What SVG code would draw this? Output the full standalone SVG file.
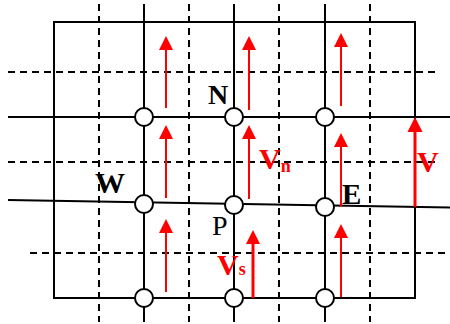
<svg xmlns="http://www.w3.org/2000/svg" width="450" height="324" viewBox="0 0 450 324">
<style>
.solid{stroke:#000;stroke-width:2;fill:none}
.dash{stroke:#000;stroke-width:2;stroke-dasharray:7,5;fill:none}
.node{fill:#fff;stroke:#000;stroke-width:2}
.arr{stroke:#f00;stroke-width:2;fill:none}
.arrk{stroke:#f00;stroke-width:3;fill:none}
.head{fill:#f00}
.lbl{font-family:"Liberation Serif",serif;font-weight:bold;fill:#000}
.red{font-family:"Liberation Serif",serif;font-weight:bold;fill:#f00}
</style>
<rect width="450" height="324" fill="#fff"/>
<g id="grid">
<rect class="solid" x="54" y="22" width="361" height="276"/>
<line class="solid" x1="144" y1="4" x2="144" y2="322"/>
<line class="solid" x1="234" y1="4" x2="234" y2="322"/>
<line class="solid" x1="325" y1="4" x2="325" y2="322"/>
<line class="solid" x1="8" y1="117" x2="450" y2="117"/>
<line class="solid" x1="8" y1="200" x2="450" y2="207.5"/>
<line class="dash" x1="99" y1="4" x2="99" y2="322"/>
<line class="dash" x1="189" y1="4" x2="189" y2="322"/>
<line class="dash" x1="279" y1="4" x2="279" y2="322"/>
<line class="dash" x1="370" y1="4" x2="370" y2="322"/>
<line class="dash" x1="8" y1="72" x2="437" y2="72"/>
<line class="dash" x1="8" y1="162" x2="437" y2="162"/>
<line class="dash" x1="30" y1="253" x2="450" y2="253"/>
</g>
<g id="connectors">
<line class="arr" x1="166" y1="108" x2="166" y2="48"/><polygon class="head" points="166,36 159,50 173,50"/>
<line class="arr" x1="166" y1="198" x2="166" y2="137"/><polygon class="head" points="166,125 159,139 173,139"/>
<line class="arr" x1="166" y1="292" x2="166" y2="231"/><polygon class="head" points="166,219 159,233 173,233"/>
<line class="arr" x1="249" y1="110" x2="249" y2="48"/><polygon class="head" points="249,36 242,50 256,50"/>
<line class="arr" x1="249" y1="199" x2="249" y2="137"/><polygon class="head" points="249,125 242,139 256,139"/>
<line class="arrk" x1="253" y1="298" x2="253" y2="242"/><polygon class="head" points="253,230 246,244 260,244"/>
<line class="arr" x1="341" y1="106" x2="341" y2="45"/><polygon class="head" points="341,33 334,47 348,47"/>
<line class="arr" x1="341" y1="207" x2="341" y2="145"/><polygon class="head" points="341,133 334,147 348,147"/>
<line class="arr" x1="341" y1="297" x2="341" y2="236"/><polygon class="head" points="341,224 334,238 348,238"/>
<line class="arrk" x1="415" y1="207" x2="415" y2="130"/><polygon class="head" points="415,117 407.5,132 422.5,132"/>
</g>
<g id="N"><circle class="node" cx="234" cy="117" r="9"/><text class="lbl" x="208" y="104" font-size="28">N</text></g>
<g id="n2"><circle class="node" cx="144" cy="117" r="9"/></g>
<g id="n3"><circle class="node" cx="325" cy="117" r="9"/></g>
<g id="W"><circle class="node" cx="144" cy="204" r="9"/><text class="lbl" x="95" y="193" font-size="30">W</text></g>
<g id="P"><circle class="node" cx="234" cy="205" r="9"/><text x="212" y="235" font-size="28" font-family="Liberation Serif,serif" fill="#000">P</text></g>
<g id="E"><circle class="node" cx="325" cy="207" r="9"/><text class="lbl" x="342" y="204" font-size="29">E</text></g>
<g id="b1"><circle class="node" cx="144" cy="298" r="9"/></g>
<g id="b2"><circle class="node" cx="234" cy="298" r="9"/></g>
<g id="b3"><circle class="node" cx="325" cy="298" r="9"/></g>
<g id="labels">
<text class="red" x="259" y="169" font-size="30">V<tspan font-size="18" dy="3">n</tspan></text>
<text class="red" x="217" y="275" font-size="30">V<tspan font-size="18">s</tspan></text>
<text class="red" x="417" y="172" font-size="30">V</text>
</g>
</svg>
